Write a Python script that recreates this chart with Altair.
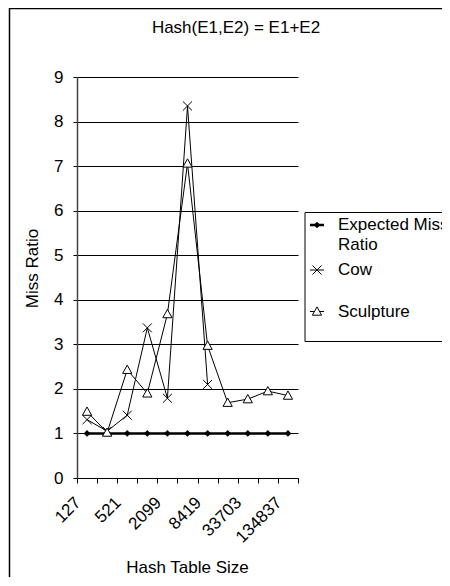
import altair as alt
import pandas as pd

sizes = ["127", "257", "521", "1031", "2099", "4201", "8419", "16843", "33703", "67409", "134837"]
shown = ["127", "521", "2099", "8419", "33703", "134837"]
expected = [1, 1, 1, 1, 1, 1, 1, 1, 1, 1, 1]
cow = [1.31, 1.05, 1.41, 3.37, 1.79, 8.35, 2.10]
sculpture = [1.49, 1.02, 2.43, 1.90, 3.68, 7.06, 2.97, 1.69, 1.77, 1.95, 1.85]

df_exp = pd.DataFrame({"size": sizes, "ratio": expected})
df_cow = pd.DataFrame({"size": sizes[:len(cow)], "ratio": cow})
df_scu = pd.DataFrame({"size": sizes, "ratio": sculpture})
one = pd.DataFrame({"k": [0]})

FONT = "Liberation Sans"
FS = 17
RIGHT_EDGE = 365  # plot-coordinate x of the svg's right edge

DIAMOND = "M0,-1L1,0L0,1L-1,0Z"
XMARK = "M-1,-1L1,1M-1,1L1,-1"
TRI = "M0,-1L-1,0.8L1,0.8Z"

shown_js = "[" + ",".join("'" + s + "'" for s in shown) + "]"

x_enc = alt.X(
    "size:O",
    sort=sizes,
    bandPosition=0.5,
    scale=alt.Scale(type="band", domain=sizes, paddingInner=0, paddingOuter=0),
    axis=alt.Axis(
        title="Hash Table Size",
        titleFont=FONT, titleFontSize=FS, titleFontWeight="normal", titleColor="black",
        titleX=110, titleY=89, titleAlign="center", titleBaseline="middle",
        labelAngle=315, labelAlign="right", labelBaseline="top",
        labelExpr="indexof(" + shown_js + ", datum.label) >= 0 ? datum.label : ''",
        labelFont=FONT, labelFontSize=FS, labelColor="black", labelPadding=11,
        labelOffset=-15,
        labelOverlap=False, labelBound=False,
        tickBand="extent", tickSize=5, tickColor="black", domainColor="black",
        grid=False,
    ),
)
y_enc = alt.Y(
    "ratio:Q",
    scale=alt.Scale(domain=[0, 9], nice=False, zero=True),
    axis=alt.Axis(
        title="Miss Ratio", values=list(range(10)),
        titleFont=FONT, titleFontSize=FS, titleFontWeight="normal", titleColor="black",
        titleAngle=270, titleX=-45, titleY=191, titleAlign="center", titleBaseline="middle",
        labelFont=FONT, labelFontSize=FS, labelColor="black", labelPadding=10,
        tickSize=4, tickColor="black", domainColor="#444", domainWidth=1.5,
        grid=True, gridColor="black", gridWidth=1, gridOpacity=1,
    ),
)

def hrule(x1, x2, y, w=1.0):
    return alt.Chart(one).mark_rule(color="black", strokeWidth=w).encode(
        x=alt.value(x1), x2=alt.value(x2), y=alt.value(y)
    )

def vrule(x, y1, y2, w=1.0):
    return alt.Chart(one).mark_rule(color="black", strokeWidth=w).encode(
        x=alt.value(x), y=alt.value(y1), y2=alt.value(y2)
    )

frame = [hrule(-68, RIGHT_EDGE, -68.5, 1.5), vrule(-67.5, -69, 500, 1.5)]

exp_line = alt.Chart(df_exp).mark_line(color="black", strokeWidth=2.5).encode(x=x_enc, y=y_enc)
exp_pts = alt.Chart(df_exp).mark_point(shape=DIAMOND, size=45, filled=True, color="black", opacity=1).encode(x=x_enc, y=y_enc)
cow_line = alt.Chart(df_cow).mark_line(color="black", strokeWidth=1).encode(x=x_enc, y=y_enc)
cow_pts = alt.Chart(df_cow).mark_point(shape=XMARK, size=80, filled=False, color="black", strokeWidth=1, opacity=1).encode(x=x_enc, y=y_enc)
scu_line = alt.Chart(df_scu).mark_line(color="black", strokeWidth=1).encode(x=x_enc, y=y_enc)
scu_pts = alt.Chart(df_scu).mark_point(shape=TRI, size=85, filled=False, fill="white", fillOpacity=1, stroke="black", strokeWidth=1, opacity=1).encode(x=x_enc, y=y_enc)

title = alt.Chart(one).mark_text(font=FONT, fontSize=FS, color="black", align="center", baseline="middle").encode(
    x=alt.value(159), y=alt.value(-49), text=alt.value("Hash(E1,E2) = E1+E2")
)

leg_fill = alt.Chart(one).mark_rect(fill="white", strokeWidth=0).encode(
    x=alt.value(228), x2=alt.value(RIGHT_EDGE), y=alt.value(135.5), y2=alt.value(264.5)
)

def leg_line(y, w):
    return alt.Chart(one).mark_rule(color="black", strokeWidth=w).encode(
        x=alt.value(233), x2=alt.value(247), y=alt.value(y)
    )

def leg_text(y, t):
    return alt.Chart(one).mark_text(font=FONT, fontSize=FS, color="black", align="left", baseline="middle").encode(
        x=alt.value(261), y=alt.value(y), text=alt.value(t)
    )

leg = [
    leg_fill,
    hrule(228, RIGHT_EDGE, 135.5),
    hrule(228, RIGHT_EDGE, 264.5),
    vrule(228, 135.5, 264.5),
    leg_line(148, 2.5),
    alt.Chart(one).mark_point(shape=DIAMOND, size=45, filled=True, color="black", opacity=1).encode(x=alt.value(240), y=alt.value(148)),
    leg_text(148, "Expected Miss"),
    leg_text(168, "Ratio"),
    leg_line(193, 1),
    alt.Chart(one).mark_point(shape=XMARK, size=80, filled=False, color="black", strokeWidth=1, opacity=1).encode(x=alt.value(240), y=alt.value(193)),
    leg_text(193, "Cow"),
    leg_line(234.5, 1),
    alt.Chart(one).mark_point(shape=TRI, size=85, filled=False, fill="white", fillOpacity=1, stroke="black", strokeWidth=1, opacity=1).encode(x=alt.value(240), y=alt.value(234.5)),
    leg_text(234.5, "Sculpture"),
]

chart = alt.layer(
    *frame, exp_line, cow_line, scu_line, exp_pts, cow_pts, scu_pts, title, *leg
).properties(
    width=221, height=401,
    padding={"left": 69, "top": 69, "right": 144, "bottom": 100},
    autosize=alt.AutoSizeParams(type="none"),
).configure_view(stroke=None)

chart.save("out.html", embed_options={"renderer": "svg", "actions": False})
